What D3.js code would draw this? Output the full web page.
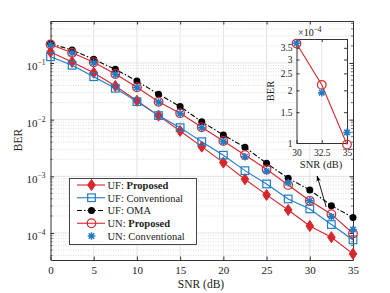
<!DOCTYPE html>
<html lang="en">

<head>
  <meta charset="utf-8">
  <title>BER vs SNR</title>
  <script src="https://d3js.org/d3.v7.min.js"></script>
  <style>
    body { margin: 0; background: #fff; }
    text { font-family: "Liberation Serif", "DejaVu Serif", serif; fill: #222; }
  </style>
</head>

<body>
  <script>
    var W = 390, H = 293;

    // data
    var snr = [0, 2.5, 5, 7.5, 10, 12.5, 15, 17.5, 20, 22.5, 25, 27.5, 30, 32.5, 35];
    var ufProposed = [0.156, 0.104, 0.0675, 0.0393, 0.0216, 0.0118, 0.00632, 0.00334, 0.00175, 0.000889, 0.00047, 0.000255, 0.000133, 0.0000843, 0.0000428];
    var ufConventional = [0.129, 0.0911, 0.0573, 0.0358, 0.0208, 0.0118, 0.00723, 0.00409, 0.00236, 0.00126, 0.000734, 0.000399, 0.000266, 0.000141, 0.0000755];
    var ufOMA = [0.22, 0.169, 0.116, 0.0774, 0.0482, 0.0281, 0.017, 0.00922, 0.00537, 0.00326, 0.0017, 0.000925, 0.000575, 0.000304, 0.000187];
    var unProposed = [0.212, 0.152, 0.103, 0.064, 0.0373, 0.0207, 0.013, 0.00734, 0.00421, 0.00238, 0.00133, 0.000705, 0.00037, 0.000215, 0.000098];
    var unConventional = [0.21, 0.15, 0.101, 0.063, 0.0368, 0.0204, 0.0128, 0.0072, 0.0041, 0.00222, 0.00123, 0.000774, 0.000372, 0.000194, 0.000115];

    var xTicks = [0, 5, 10, 15, 20, 25, 30, 35];
    var yTicks = [1e-4, 1e-3, 1e-2, 1e-1];
    var insetXTicks = [30, 32.5, 35];
    var insetYTicks = [1, 1.5, 2, 2.5, 3, 3.5];   // x 10^-4

    var red = '#d7262c', blue = '#1f7cc4', black = '#000';

    var svg = d3.select('body').append('svg')
      .attr('width', W)
      .attr('height', H);

    var x = d3.scaleLinear().domain([0, 35]).range([50.5, 353]);
    var y = d3.scaleLog().domain([3.34e-5, 0.551]).range([260, 21]);

    var plot = svg.append('g');

    // grid
    var minor = y.ticks().filter(function(v) {
      var m = v / Math.pow(10, Math.floor(Math.log10(v) + 1e-9));
      return Math.round(m) !== 1;
    });
    plot.selectAll('.minor').data(minor).enter().append('line')
      .attr('x1', x(0)).attr('x2', x(35))
      .attr('y1', function(d){return y(d);}).attr('y2', function(d){return y(d);})
      .attr('stroke', '#c8c8c8').attr('stroke-width', 0.6).attr('stroke-dasharray', '1,1.5');
    plot.selectAll('.hgrid').data(yTicks).enter().append('line')
      .attr('x1', x(0)).attr('x2', x(35))
      .attr('y1', function(d){return y(d);}).attr('y2', function(d){return y(d);})
      .attr('stroke', '#e3e3e3').attr('stroke-width', 1);
    plot.selectAll('.vgrid').data(xTicks.slice(1, -1)).enter().append('line')
      .attr('x1', function(d){return x(d);}).attr('x2', function(d){return x(d);})
      .attr('y1', 21).attr('y2', 260)
      .attr('stroke', '#e3e3e3').attr('stroke-width', 1);

    // axes (ticks inside, box on)
    function styleAxis(g) {
      g.select('.domain').attr('stroke', '#333');
      g.selectAll('.tick line').attr('stroke', '#333');
      g.selectAll('text').attr('font-family', '"Liberation Serif", serif').attr('font-size', 11).attr('fill', '#222');
    }
    plot.append('g').attr('transform', 'translate(0,260)')
      .call(d3.axisBottom(x).tickValues(xTicks).tickSize(-3.5).tickSizeOuter(0).tickPadding(6))
      .call(styleAxis);
    plot.append('g').attr('transform', 'translate(0,21)')
      .call(d3.axisTop(x).tickValues(xTicks).tickSize(-3.5).tickSizeOuter(0).tickFormat(''))
      .call(styleAxis);
    var yl = plot.append('g').attr('transform', 'translate(50.5,0)')
      .call(d3.axisLeft(y).tickValues(yTicks).tickSize(-3.5).tickSizeOuter(0).tickPadding(5).tickFormat(''))
      .call(styleAxis);
    yl.selectAll('.tick text').each(function(d) {
      var t = d3.select(this).attr('dy', '0.6em');
      t.append('tspan').text('10');
      t.append('tspan').attr('dy', -5).attr('font-size', 7.5).text('\u2212' + Math.round(-Math.log10(d)));
    });
    plot.append('g').attr('transform', 'translate(353,0)')
      .call(d3.axisRight(y).tickValues(yTicks).tickSize(-3.5).tickSizeOuter(0).tickFormat(''))
      .call(styleAxis);
    // minor ticks
    [[50.5, 2], [353, -2]].forEach(function(s) {
      plot.selectAll(null).data(minor).enter().append('line')
        .attr('x1', s[0]).attr('x2', s[0] + s[1])
        .attr('y1', function(d){return y(d);}).attr('y2', function(d){return y(d);})
        .attr('stroke', '#333').attr('stroke-width', 0.7);
    });

    svg.append('text').attr('x', 201).attr('y', 288).attr('text-anchor', 'middle')
      .attr('font-size', 11.5).text('SNR (dB)');
    svg.append('text').attr('transform', 'translate(22,140) rotate(-90)').attr('text-anchor', 'middle')
      .attr('font-size', 11.5).text('BER');

    // markers
    function marker(sel, type, color) {
      if (type === 'diamond') {
        sel.append('path').attr('d', 'M0,-5.5L3.8,0L0,5.5L-3.8,0Z').attr('fill', color).attr('stroke', color).attr('stroke-width', 1);
      } else if (type === 'square') {
        sel.append('rect').attr('x', -3.8).attr('y', -3.8).attr('width', 7.6).attr('height', 7.6)
          .attr('fill', 'none').attr('stroke', color).attr('stroke-width', 1.2);
      } else if (type === 'dot') {
        sel.append('circle').attr('r', 3.5).attr('fill', color);
      } else if (type === 'circle') {
        sel.append('circle').attr('r', 4.3).attr('fill', 'none').attr('stroke', color).attr('stroke-width', 1.2);
      } else if (type === 'star') {
        var r = 3.8, q = r * 0.72;
        sel.append('path')
          .attr('d', 'M0,' + -r + 'V' + r + 'M' + -r + ',0H' + r + 'M' + -q + ',' + -q + 'L' + q + ',' + q + 'M' + -q + ',' + q + 'L' + q + ',' + -q)
          .attr('stroke', color).attr('stroke-width', 1.5).attr('fill', 'none');
      }
    }

    var series = [
      { name: 'UF: ', bold: 'Proposed', values: ufProposed, color: red, marker: 'diamond', line: true, dash: null },
      { name: 'UF: Conventional', values: ufConventional, color: blue, marker: 'square', line: true, dash: null },
      { name: 'UF: OMA', values: ufOMA, color: black, marker: 'dot', line: true, dash: '5,2,1.5,2' },
      { name: 'UN: ', bold: 'Proposed', values: unProposed, color: red, marker: 'circle', line: true, dash: null },
      { name: 'UN: Conventional', values: unConventional, color: blue, marker: 'star', line: false, dash: null }
    ];

    var line = d3.line().x(function(d){return x(d[0]);}).y(function(d){return y(d[1]);});
    series.forEach(function(s) {
      var pts = snr.map(function(v, k){return [v, s.values[k]];});
      if (s.line) {
        plot.append('path').datum(pts).attr('d', line)
          .attr('fill', 'none').attr('stroke', s.color).attr('stroke-width', 1.1)
          .attr('stroke-dasharray', s.dash);
      }
      plot.selectAll(null).data(pts).enter().append('g')
        .attr('transform', function(d){return 'translate(' + x(d[0]) + ',' + y(d[1]) + ')';})
        .each(function(){ marker(d3.select(this), s.marker, s.color); });
    });

    // legend
    var lg = svg.append('g');
    lg.append('rect').attr('x', 69.5).attr('y', 178.5).attr('width', 127).attr('height', 66)
      .attr('fill', '#fff').attr('stroke', '#333').attr('stroke-width', 0.9);
    series.forEach(function(s, i) {
      var ry = 185 + i * 12.75;
      var row = lg.append('g');
      if (s.line) {
        row.append('line').attr('x1', 77).attr('x2', 105).attr('y1', ry).attr('y2', ry)
          .attr('stroke', s.color).attr('stroke-width', 1.1).attr('stroke-dasharray', s.dash);
      }
      marker(row.append('g').attr('transform', 'translate(91.5,' + ry + ')'), s.marker, s.color);
      var t = row.append('text').attr('x', 107.5).attr('y', ry + 3.8).attr('font-size', 10.5).text(s.name);
      if (s.bold) t.append('tspan').attr('font-weight', 'bold').text(s.bold);
    });

    // inset
    var ix = d3.scaleLinear().domain([30, 35]).range([296.5, 347]);
    var iy = d3.scaleLog().domain([1e-4, 3.93e-4]).range([143, 39]);
    var inset = svg.append('g');
    inset.append('rect').attr('x', 296.5).attr('y', 39).attr('width', 50.5).attr('height', 104).attr('fill', '#fff');
    inset.append('line').attr('x1', ix(32.5)).attr('x2', ix(32.5)).attr('y1', 39).attr('y2', 143)
      .attr('stroke', '#e3e3e3');
    var inX = inset.append('g').attr('transform', 'translate(0,143)')
      .call(d3.axisBottom(ix).tickValues(insetXTicks).tickSize(-3).tickSizeOuter(0).tickPadding(6)
        .tickFormat(d3.format('~g')))
      .call(styleAxis);
    inX.selectAll('text').attr('font-size', 9.5);
    inset.append('g').attr('transform', 'translate(0,39)')
      .call(d3.axisTop(ix).tickValues(insetXTicks).tickSize(-3).tickSizeOuter(0).tickFormat(''))
      .call(styleAxis);
    var inY = inset.append('g').attr('transform', 'translate(296.5,0)')
      .call(d3.axisLeft(iy).tickValues(insetYTicks.map(function(v){return v * 1e-4;})).tickSize(-3).tickSizeOuter(0).tickPadding(4)
        .tickFormat(function(d){return d3.format('~g')(Math.round(d * 1e5) / 10);}))
      .call(styleAxis);
    inY.selectAll('text').attr('font-size', 9.5);
    inset.append('g').attr('transform', 'translate(347,0)')
      .call(d3.axisRight(iy).tickValues(insetYTicks.map(function(v){return v * 1e-4;})).tickSize(-3).tickSizeOuter(0).tickFormat(''))
      .call(styleAxis);
    var ex = inset.append('text').attr('x', 298).attr('y', 36).attr('font-size', 10);
    ex.append('tspan').text('\u00d710');
    ex.append('tspan').attr('dy', -4.5).attr('font-size', 7.5).text('\u22124');
    inset.append('text').attr('transform', 'translate(274,91) rotate(-90)').attr('text-anchor', 'middle')
      .attr('font-size', 10.5).text('BER');
    inset.append('text').attr('x', 321).attr('y', 168).attr('text-anchor', 'middle')
      .attr('font-size', 10.5).text('SNR (dB)');

    var ipts = function(vals) {
      return snr.map(function(v, k){return [v, vals[k]];}).filter(function(d){return d[0] >= 30;});
    };
    var iline = d3.line().x(function(d){return ix(d[0]);}).y(function(d){return iy(d[1]);});
    inset.append('path').datum(ipts(unProposed)).attr('d', iline)
      .attr('fill', 'none').attr('stroke', red).attr('stroke-width', 1.1);
    inset.selectAll(null).data(ipts(unProposed)).enter().append('g')
      .attr('transform', function(d){return 'translate(' + ix(d[0]) + ',' + iy(d[1]) + ')';})
      .each(function(){ marker(d3.select(this), 'circle', red); });
    inset.selectAll(null).data(ipts(unConventional)).enter().append('g')
      .attr('transform', function(d){return 'translate(' + ix(d[0]) + ',' + iy(d[1]) + ')';})
      .each(function(){ marker(d3.select(this), 'star', blue); });

    // arrow pointing to the inset
    svg.append('defs').append('marker').attr('id', 'ah').attr('viewBox', '0 0 10 10')
      .attr('refX', 9).attr('refY', 5).attr('markerWidth', 7).attr('markerHeight', 7).attr('orient', 'auto')
      .append('path').attr('d', 'M0,1.5L10,5L0,8.5L3,5Z').attr('fill', '#000');
    svg.append('line').attr('x1', x(31.9)).attr('y1', 207).attr('x2', x(30.85)).attr('y2', 176)
      .attr('stroke', '#000').attr('stroke-width', 0.9).attr('marker-end', 'url(#ah)');
  </script>
</body>

</html>
